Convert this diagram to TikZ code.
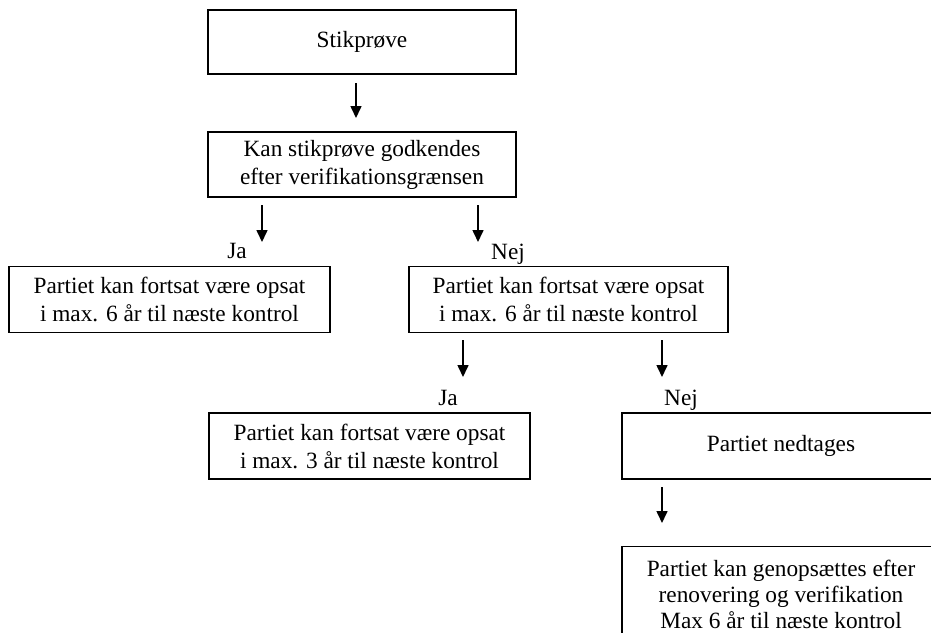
\documentclass[tikz,border=0pt]{standalone}
\usepackage{fontspec}
\setmainfont{Liberation Serif}
\usetikzlibrary{arrows.meta}

\begin{document}
\begin{tikzpicture}[x=1pt,y=1pt,yscale=-1,xscale=1,
		box/.style={draw, line width=1.6pt, align=center, inner sep=0pt, font=\fontsize{23.3}{28}\selectfont},
		lbl/.style={inner sep=0pt, anchor=base, font=\fontsize{23.3}{28}\selectfont},
		arr/.style={line width=1.6pt, -{Triangle[width=11pt,length=12pt]}}]
		% Set diagram size to 931 x 632, boxes on the right run past the edge
		\useasboundingbox (0,0) rectangle (931,632);
		\clip (0,0) rectangle (931,632);

		% The boxes from top to bottom
		\node (stik) [box, minimum width=308pt, minimum height=64pt] at (362,42) {Stikprøve};
		\node (godk) [box, minimum width=308pt, minimum height=65pt] at (362,164.5) {Kan stikprøve godkendes\\efter verifikationsgrænsen};
		\node (jaSeks) [box, minimum width=321pt, minimum height=66pt] at (169.5,299.5) {Partiet kan fortsat være opsat\\i max. 6 år til næste kontrol};
		\node (nejSeks) [box, minimum width=319pt, minimum height=66pt] at (568.5,299.5) {Partiet kan fortsat være opsat\\i max. 6 år til næste kontrol};
		\node (jaTre) [box, minimum width=321pt, minimum height=66pt] at (369.5,446) {Partiet kan fortsat være opsat\\i max. 3 år til næste kontrol};
		\node (nedtag) [box, minimum width=318pt, minimum height=66pt] at (781,446) {Partiet nedtages};
		\node (genop) [box, minimum width=318pt, minimum height=95pt, font=\fontsize{23.3}{26}\selectfont] at (781,594) {Partiet kan genopsættes efter\\renovering og verifikation\\Max 6 år til næste kontrol};

		% The answers "Ja" and "Nej"
		\node (jaEt) [lbl] at (237,258) {Ja};
		\node (nejEt) [lbl] at (508,259) {Nej};
		\node (jaTo) [lbl] at (448,405) {Ja};
		\node (nejTo) [lbl] at (681,405) {Nej};

		% Start and end of each arrow
		\coordinate (pilA) at (356,83);  \coordinate (pilAend) at (356,118);
		\coordinate (pilB) at (262,205); \coordinate (pilBend) at (262,242);
		\coordinate (pilC) at (478,205); \coordinate (pilCend) at (478,242);
		\coordinate (pilD) at (463,340); \coordinate (pilDend) at (463,377);
		\coordinate (pilE) at (662,340); \coordinate (pilEend) at (662,377);
		\coordinate (pilF) at (662,487); \coordinate (pilFend) at (662,523);

		% The arrows
		\draw[arr] (pilA) -- (pilAend);
		\draw[arr] (pilB) -- (pilBend);
		\draw[arr] (pilC) -- (pilCend);
		\draw[arr] (pilD) -- (pilDend);
		\draw[arr] (pilE) -- (pilEend);
		\draw[arr] (pilF) -- (pilFend);
	\end{tikzpicture}
\end{document}
